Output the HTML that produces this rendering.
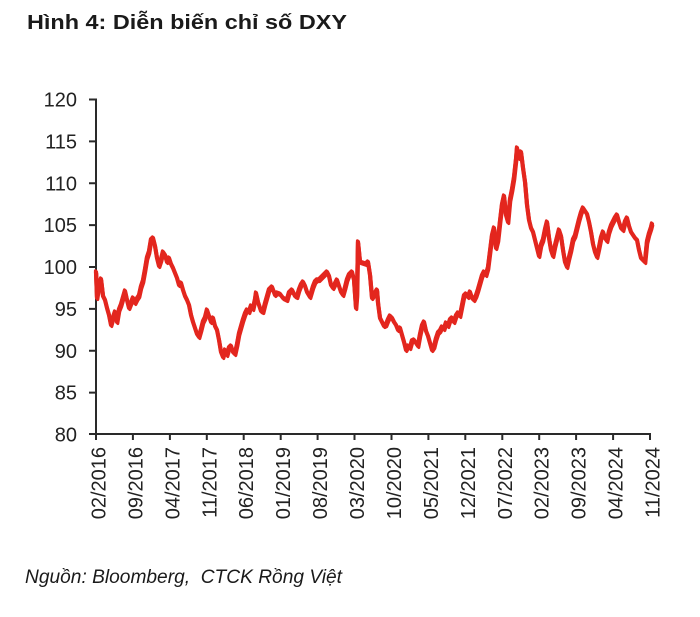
<!DOCTYPE html>
<html><head><meta charset="utf-8"><style>
html,body{margin:0;padding:0;background:#fff;}
svg{display:block;}
</style></head><body>
<svg width="700" height="617" viewBox="0 0 700 617" xmlns="http://www.w3.org/2000/svg">
<defs>
<polyline id="series" fill="none" stroke-linejoin="round" stroke-linecap="round" points="
96,272 97,298 99,285 101,279 103,296 105,300 107,308 109,315 111,325 113,318 115,312 117,322 119,310 121,305 123,298 125,291 127,300 129,308 131,303 133,298 135,303 137,299 139,296 141,287 143,281 145,270 147,258 149,252 151,240 153,238 155,246 157,258 159,266 161,260 163,252 165,255 167,262 169,258 171,264 173,268 175,273 177,278 179,285 181,283 183,290 185,296 187,300 189,305 191,315 193,322 195,328 197,334 199,337 201,330 203,322 205,318 207,310 209,316 211,322 213,318 215,326 217,330 219,340 221,352 223,357 225,350 227,355 229,348 231,346 233,352 235,354 237,345 239,334 241,327 243,320 245,314 247,310 249,312 251,306 253,309 255,300 256,293 258,302 261,311 263,312 265,304 267,297 269,290 272,287 275,295 277,293 280,294 283,298 287,300 289,293 292,290 295,296 297,297 299,290 301,285 303,282 305,286 307,292 310,297 313,287 315,282 317,280 319,280 321,278 324,275 327,272 329,276 331,285 333,288 335,284 337,280 339,286 341,292 343,295 345,288 347,280 349,275 352,272 354,280 356,308 357,295 358,242 360,262 363,263 366,264 368,262 370,275 372,298 374,295 377,290 378,303 380,318 382,322 384,326 386,325 388,320 390,316 392,318 394,322 396,325 398,330 400,328 402,335 404,342 406,350 408,346 410,348 412,341 414,340 416,343 418,346 420,335 422,326 424,322 426,331 428,336 430,343 432,350 434,347 436,339 438,333 440,331 442,327 444,329 446,323 448,326 450,320 452,318 454,322 456,316 458,313 460,316 462,306 464,296 466,294 468,297 470,292 472,298 474,300 476,296 478,290 480,283 482,276 484,272 486,275 488,268 490,252 492,236 494,228 496,248 498,240 500,222 502,205 504,196 506,215 508,222 510,200 512,190 514,178 516,160 517,148 519,158 521,152 523,168 525,182 527,205 529,220 531,228 533,232 535,240 537,248 539,256 541,245 543,240 545,230 547,222 549,238 551,250 553,256 555,246 557,238 559,230 561,236 563,250 565,262 567,267 569,258 571,250 573,240 575,236 577,228 579,220 581,213 583,208 585,211 587,214 589,222 591,232 593,244 595,252 597,257 599,248 601,238 603,232 605,238 607,241 609,232 611,226 613,222 615,218 617,215 619,222 621,228 623,230 625,222 627,218 629,226 631,232 633,235 635,238 637,240 639,250 641,258 643,260 645,262 647,242 649,234 651,228 652,224"/>
</defs>
<rect width="700" height="617" fill="#fff"/>
<text x="27" y="29" font-family="Liberation Sans, sans-serif" font-weight="bold" font-size="20" fill="#1a1a1a" textLength="320" lengthAdjust="spacingAndGlyphs">Hình 4: Diễn biến chỉ số DXY</text>

<g font-family="Liberation Sans, sans-serif" font-size="20" fill="#222" text-anchor="end">
<text x="77" y="106.5">120</text>
<text x="77" y="148.4">115</text>
<text x="77" y="190.3">110</text>
<text x="77" y="232.1">105</text>
<text x="77" y="274">100</text>
<text x="77" y="315.9">95</text>
<text x="77" y="357.8">90</text>
<text x="77" y="399.6">85</text>
<text x="77" y="441.5">80</text>
</g>

<g stroke="#2a2a2a" stroke-width="2" fill="none">
<line x1="96" y1="98.5" x2="96" y2="435"/>
<line x1="95" y1="434" x2="651" y2="434"/>
<path d="M89 99.5H96M89 141.4H96M89 183.3H96M89 225.1H96M89 267H96M89 308.9H96M89 350.8H96M89 392.6H96M89 434H96"/>
<path d="M96 434V440M132.9 434V440M169.9 434V440M206.8 434V440M243.7 434V440M280.7 434V440M317.6 434V440M354.5 434V440M391.5 434V440M428.4 434V440M465.3 434V440M502.3 434V440M539.2 434V440M576.1 434V440M613.1 434V440M650 434V440"/>
</g>

<g font-family="Liberation Sans, sans-serif" font-size="20" fill="#222" text-anchor="end">
<text transform="translate(105.5,447) rotate(-90)">02/2016</text>
<text transform="translate(142.4,447) rotate(-90)">09/2016</text>
<text transform="translate(179.4,447) rotate(-90)">04/2017</text>
<text transform="translate(216.3,447) rotate(-90)">11/2017</text>
<text transform="translate(253.2,447) rotate(-90)">06/2018</text>
<text transform="translate(290.2,447) rotate(-90)">01/2019</text>
<text transform="translate(327.1,447) rotate(-90)">08/2019</text>
<text transform="translate(364,447) rotate(-90)">03/2020</text>
<text transform="translate(401,447) rotate(-90)">10/2020</text>
<text transform="translate(437.9,447) rotate(-90)">05/2021</text>
<text transform="translate(474.8,447) rotate(-90)">12/2021</text>
<text transform="translate(511.8,447) rotate(-90)">07/2022</text>
<text transform="translate(548.7,447) rotate(-90)">02/2023</text>
<text transform="translate(585.6,447) rotate(-90)">09/2023</text>
<text transform="translate(622.6,447) rotate(-90)">04/2024</text>
<text transform="translate(659.5,447) rotate(-90)">11/2024</text>
</g>

<use href="#series" stroke="#e3261e" stroke-width="4.2"/>
<use href="#series" stroke="#e3261e" stroke-width="3" transform="translate(0.8,1.6)"/>
<use href="#series" stroke="#e3261e" stroke-width="3" transform="translate(-0.6,-1.2)"/>

<text x="25" y="583" font-family="Liberation Sans, sans-serif" font-style="italic" font-size="19" fill="#1a1a1a" textLength="317" lengthAdjust="spacingAndGlyphs" xml:space="preserve">Nguồn: Bloomberg,  CTCK Rồng Việt</text>
</svg>
</body></html>
